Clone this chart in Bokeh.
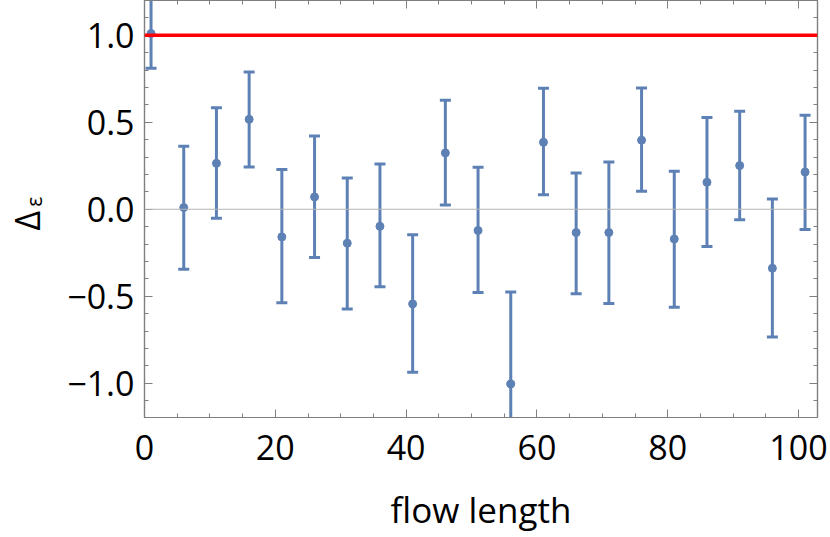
import numpy as np
from bokeh.plotting import figure
from bokeh.models import (Range1d, LinearAxis, FixedTicker, Span, ColumnDataSource,
                          CustomLabelingPolicy)
from bokeh.embed import file_html
from bokeh.resources import INLINE

# ---- data ----
flow_length = [1, 6, 11, 16, 21, 26, 31, 36, 41, 46, 51, 56, 61, 66, 71, 76, 81, 86, 91, 96, 101]
delta = [1.01, 0.01, 0.264, 0.517, -0.159, 0.071, -0.195, -0.098, -0.544, 0.324, -0.122,
         -1.004, 0.385, -0.134, -0.134, 0.397, -0.171, 0.155, 0.251, -0.339, 0.214]
upper = [1.21, 0.362, 0.584, 0.789, 0.228, 0.421, 0.18, 0.26, -0.146, 0.626, 0.241,
         -0.475, 0.695, 0.209, 0.272, 0.697, 0.218, 0.527, 0.563, 0.059, 0.54]
lower = [0.81, -0.345, -0.052, 0.243, -0.538, -0.278, -0.573, -0.446, -0.937, 0.025, -0.479,
         -1.53, 0.084, -0.485, -0.542, 0.103, -0.563, -0.214, -0.061, -0.734, -0.117]
reference_level = 1.0

x_tick_values = [0, 20, 40, 60, 80, 100]
x_tick_labels = ["0", "20", "40", "60", "80", "100"]
y_tick_values = [-1.0, -0.5, 0.0, 0.5, 1.0]
y_tick_labels = ["\u22121.0", "\u22120.5", "0.0", "0.5", "1.0"]
x_label = "flow length"
y_label_main = "\u0394"   # Delta
y_label_sub = "\u03b5"    # epsilon (subscript)

BLUE = "#5E81B5"
FRAME = "#7f7f7f"
FONT = "Open Sans"
NBSP = "\u00a0"
THIN = "\u2009"

src = ColumnDataSource(dict(x=flow_length, y=delta, up=upper, lo=lower))

p = figure(width=830, height=537, output_backend="svg", toolbar_location=None,
           x_range=Range1d(0, 102.9), y_range=Range1d(-1.197, 1.2),
           min_border_left=143, min_border_right=13, min_border_top=0, min_border_bottom=120,
           background_fill_color="white", border_fill_color="white",
           outline_line_color=FRAME, outline_line_width=1.2)
p.xgrid.visible = False
p.ygrid.visible = False

x_minor = list(np.arange(0, 105, 5))
y_minor = [round(v, 1) for v in np.arange(-1.1, 1.15, 0.1)]
xt = FixedTicker(ticks=x_tick_values, minor_ticks=x_minor)
yt = FixedTicker(ticks=y_tick_values, minor_ticks=y_minor)

hide_labels = CustomLabelingPolicy(code="""
for (let i = 0; i < indices.size; i++) { indices.unset(i) }
return indices
""")

def style(ax, ticker, labels):
    ax.ticker = ticker
    ax.axis_line_color = FRAME
    ax.axis_line_width = 1.2
    ax.major_tick_line_color = FRAME
    ax.minor_tick_line_color = FRAME
    ax.major_tick_in = 8
    ax.major_tick_out = 0
    ax.minor_tick_in = 4
    ax.minor_tick_out = 0
    if labels is None:
        ax.major_label_policy = hide_labels
        ax.major_label_text_font_size = "0px"
        ax.major_label_standoff = 0
    else:
        ax.major_label_overrides = labels
        ax.major_label_text_font = FONT
        ax.major_label_text_font_size = "34px"
        ax.major_label_text_color = "black"

style(p.xaxis[0], xt, {v: s for v, s in zip(x_tick_values, x_tick_labels)})
style(p.yaxis[0], yt, {v: s for v, s in zip(y_tick_values, y_tick_labels)})
p.xaxis[0].major_label_standoff = 17
p.yaxis[0].major_label_standoff = 10
p.xaxis[0].axis_label = x_label
p.xaxis[0].axis_label_text_font = FONT
p.xaxis[0].axis_label_text_font_size = "35px"
p.xaxis[0].axis_label_text_font_style = "normal"
p.xaxis[0].axis_label_text_color = "black"
p.xaxis[0].axis_label_standoff = 23

# subscript epsilon as label of the inner left axis
ya = p.yaxis[0]
ya.axis_label = NBSP * 2 + THIN + y_label_sub
ya.axis_label_text_font = FONT
ya.axis_label_text_font_size = "21px"
ya.axis_label_text_font_style = "normal"
ya.axis_label_text_color = "black"
ya.axis_label_standoff = 16

# Delta as label of an outer, tick-less left axis
yb = LinearAxis(ticker=FixedTicker(ticks=[]), axis_line_color=None,
                major_tick_line_color=None, minor_tick_line_color=None,
                major_tick_in=0, major_tick_out=0, minor_tick_in=0, minor_tick_out=0,
                major_label_standoff=0, major_label_text_font_size="0px",
                axis_label=y_label_main + NBSP * 2 + THIN, axis_label_text_font=FONT,
                axis_label_text_font_size="34px", axis_label_text_font_style="normal",
                axis_label_text_color="black", axis_label_standoff=-32)
p.add_layout(yb, "left")

top_ax = LinearAxis()
right_ax = LinearAxis()
style(top_ax, xt, None)
style(right_ax, yt, None)
p.add_layout(top_ax, "above")
p.add_layout(right_ax, "right")

p.add_layout(Span(location=0, dimension="width", line_color="#b4b4b4", line_width=1))

p.segment(x0="x", y0="lo", x1="x", y1="up", source=src, line_color=BLUE, line_width=3)
p.scatter(x="x", y="up", source=src, marker="dash", size=11, line_color=BLUE, line_width=3)
p.scatter(x="x", y="lo", source=src, marker="dash", size=11, line_color=BLUE, line_width=3)
p.scatter(x="x", y="y", source=src, marker="circle", size=8, fill_color=BLUE, line_color=BLUE)

p.add_layout(Span(location=reference_level, dimension="width", line_color="#ff0000", line_width=3.5))

open("out.html", "w").write(file_html(p, INLINE))
